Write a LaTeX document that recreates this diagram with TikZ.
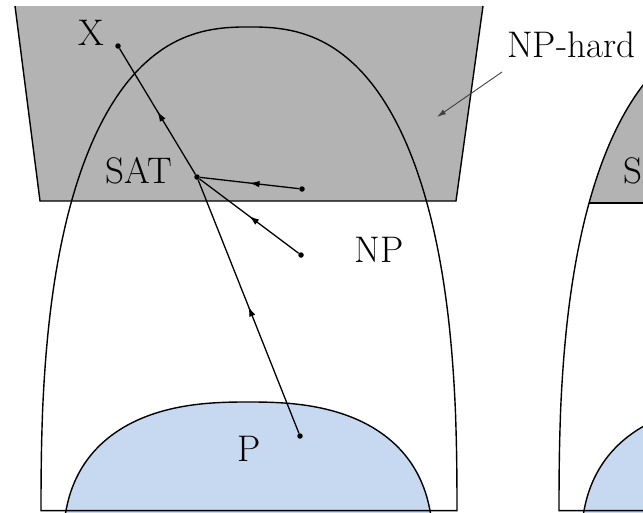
\documentclass[tikz,border=0pt]{standalone}
\usetikzlibrary{arrows.meta,decorations.markings}
\definecolor{hardgray}{RGB}{179,179,179}
\definecolor{pblue}{RGB}{198,217,241}
\begin{document}
\begin{tikzpicture}[x=1pt,y=-1pt,
  declare function={
    supx(\t)=sin(\t)*pow(abs(sin(\t))+0.0001,-0.2);
    supy(\t)=pow(abs(cos(\t))+0.0001,0.8);
  },
  edge/.style={line width=1.4pt},
  npshape/.style={insert path={plot[domain=-90:90,samples=141] ({#1+208*supx(\x)},{511-484*supy(\x)}) -- cycle}},
  pshape/.style={insert path={plot[domain=-90:90,samples=141] ({#1+185*supx(\x)},{552-150*supy(\x)}) -- cycle}},
  dot/.style={circle,fill=black,inner sep=0pt,minimum size=5.5pt},
  conn/.style={line width=1.3pt,postaction={decorate},
    decoration={markings,mark=at position 0.5 with {\arrow{Latex[length=10pt,width=6.5pt]}}}},
  lbl/.style={font=\fontsize{37}{40}\selectfont,inner sep=0pt,text=black},
  pointer/.style={line width=0.9pt,draw=black!75,-{Latex[length=9pt,width=5.5pt]}}
]
\useasboundingbox (0,0) rectangle (643,512);
\clip (0,0) rectangle (643,512);

% ---------- first diagram ----------
\fill[hardgray] (15,6) -- (483,6) -- (456,201) -- (40,201) -- cycle;
\draw[edge] (15,6) -- (40,201) -- (456,201) -- (483,6);
\draw[edge,fill=pblue,pshape=248];
\draw[edge,npshape=249];

\node[dot] (x) at (118,46) {};
\node[dot] (sat) at (197,177) {};
\node[dot] (n1) at (302,189) {};
\node[dot] (n2) at (301,255) {};
\node[dot] (p) at (300,436) {};

\draw[conn] (sat) -- (x);
\draw[conn] (n1) -- (sat);
\draw[conn] (n2) -- (sat);
\draw[conn] (p) -- (sat);

\node[lbl,anchor=base] (xl) at (91.5,45) {X};
\node[lbl,anchor=base] (satl) at (139,183) {SAT};
\node[lbl,anchor=base] (npl) at (379,262) {NP};
\node[lbl,anchor=base] (pl) at (249,461) {P};
\node[lbl,anchor=base west] (hardl) at (507,57) {NP-hard};
\coordinate (hs) at (502,72);
\coordinate (ht) at (437,117);
\draw[pointer] (hs) -- (ht);

% ---------- second diagram (partly visible) ----------
\begin{scope}
  \path[clip,npshape=767];
  \fill[hardgray] (540,0) rectangle (700,203);
  \draw[edge] (540,203) -- (700,203);
\end{scope}
\draw[edge,fill=pblue,pshape=766];
\draw[edge,npshape=767];
\node[lbl,anchor=base west] (sat2) at (623,183) {SAT};
\end{tikzpicture}
\end{document}
